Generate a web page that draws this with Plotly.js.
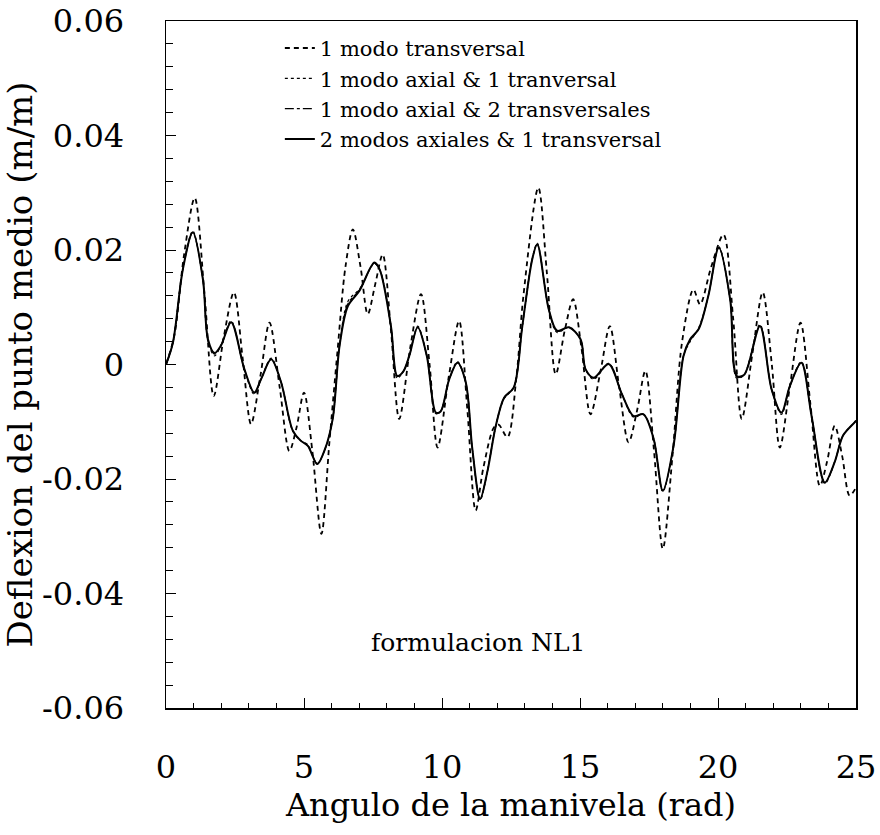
<!DOCTYPE html>
<html>
<head>
<meta charset="utf-8">
<script src="https://cdn.plot.ly/plotly-3.0.1.min.js"></script>
<style>
html,body{margin:0;padding:0;background:#fff;}
#chart{width:880px;height:835px;}
</style>
</head>
<body>
<div id="chart"></div>
<script>
// Series names
const seriesNames = [
  "1 modo transversal",
  "1 modo axial & 1 tranversal",
  "1 modo axial & 2 transversales",
  "2 modos axiales & 1 transversal"
];

// 1 modo transversal (dashed)
const angleT = [0, 0.3, 0.65, 1.04, 1.40, 1.73, 2.10, 2.46, 2.78, 3.08, 3.42, 3.75, 4.12, 4.47, 4.73, 5.00, 5.30, 5.63, 5.92, 6.22, 6.50, 6.77, 7.05, 7.31, 7.58, 7.85, 8.15, 8.45, 8.85, 9.24, 9.55, 9.84, 10.25, 10.62, 10.92, 11.22, 11.50, 11.88, 12.05, 12.37, 12.70, 12.95, 13.49, 13.80, 14.12, 14.45, 14.75, 15.05, 15.38, 15.75, 16.08, 16.42, 16.76, 17.07, 17.37, 17.68, 18.00, 18.35, 18.70, 19.11, 19.35, 19.75, 20.20, 20.55, 20.86, 21.25, 21.62, 21.95, 22.24, 22.60, 22.99, 23.35, 23.69, 23.95, 24.23, 24.50, 24.77, 25.00];
const defT = [0, 0.0050, 0.0190, 0.0291, 0.0120, -0.0055, 0.0050, 0.0126, 0.0010, -0.0104, -0.0020, 0.0073, -0.0040, -0.0151, -0.0110, -0.0049, -0.0150, -0.0296, -0.0136, 0.0027, 0.0170, 0.0236, 0.0170, 0.0088, 0.0140, 0.0192, 0.0060, -0.0095, 0.0030, 0.0123, 0.0000, -0.0145, -0.0020, 0.0076, -0.0080, -0.0255, -0.0180, -0.0110, -0.0105, -0.0127, -0.0020, 0.0120, 0.0309, 0.0160, -0.0017, 0.0060, 0.0114, 0.0030, -0.0087, -0.0010, 0.0067, -0.0040, -0.0136, -0.0080, -0.0011, -0.0150, -0.0322, -0.0160, 0.0040, 0.0131, 0.0105, 0.0170, 0.0227, 0.0080, -0.0095, 0.0020, 0.0126, 0.0000, -0.0145, -0.0040, 0.0073, -0.0070, -0.0212, -0.0170, -0.0107, -0.0160, -0.0229, -0.0215];

// Shared angle for the coupled formulations
const angle = [0, 0.25, 0.61, 0.97, 1.34, 1.52, 1.76, 1.99, 2.36, 2.84, 3.20, 3.45, 3.81, 4.17, 4.59, 4.88, 5.14, 5.48, 5.76, 6.04, 6.29, 6.59, 7.01, 7.55, 7.75, 8.15, 8.38, 8.60, 8.82, 9.12, 9.45, 9.78, 9.95, 10.26, 10.56, 10.86, 11.10, 11.38, 11.64, 11.95, 12.25, 12.60, 12.91, 13.27, 13.45, 13.87, 14.17, 14.60, 15.02, 15.20, 15.50, 16.04, 16.52, 16.94, 17.30, 17.67, 18.00, 18.39, 18.75, 18.99, 19.30, 19.65, 20.03, 20.44, 20.68, 20.95, 21.52, 21.94, 22.30, 22.60, 23.02, 23.39, 23.87, 24.23, 24.53, 24.95, 25.00];

// 1 modo axial & 1 tranversal (dotted)
const defA1T1 = [0, 0.0038, 0.0168, 0.0233, 0.0146, 0.0040, 0.0015, 0.0033, 0.0076, -0.0010, -0.0052, -0.0025, 0.0011, -0.0031, -0.0116, -0.0133, -0.0140, -0.0174, -0.0148, -0.0095, 0.0035, 0.0110, 0.0132, 0.0176, 0.0165, 0.0067, -0.0024, -0.0012, 0.0016, 0.0067, 0.0015, -0.0086, -0.0082, -0.0026, 0.0005, -0.0031, -0.0148, -0.0237, -0.0188, -0.0107, -0.0060, -0.0040, 0.0067, 0.0184, 0.0212, 0.0096, 0.0056, 0.0065, 0.0044, -0.0008, -0.0026, 0.0002, -0.0052, -0.0092, -0.0087, -0.0130, -0.0222, -0.0142, 0.0015, 0.0040, 0.0064, 0.0120, 0.0206, 0.0114, -0.0024, -0.0018, 0.0070, -0.0043, -0.0087, -0.0038, 0.0005, -0.0090, -0.0208, -0.0170, -0.0124, -0.0101, -0.0098];

// 1 modo axial & 2 transversales (dash-dot)
const defA1T2 = [0, 0.0038, 0.0166, 0.0230, 0.0148, 0.0043, 0.0018, 0.0033, 0.0074, -0.0008, -0.0050, -0.0025, 0.0009, -0.0031, -0.0115, -0.0133, -0.0142, -0.0173, -0.0148, -0.0095, 0.0033, 0.0106, 0.0130, 0.0177, 0.0165, 0.0067, -0.0021, -0.0012, 0.0016, 0.0065, 0.0015, -0.0085, -0.0082, -0.0026, 0.0003, -0.0031, -0.0148, -0.0235, -0.0188, -0.0107, -0.0058, -0.0040, 0.0067, 0.0184, 0.0210, 0.0096, 0.0058, 0.0065, 0.0044, -0.0008, -0.0024, 0.0001, -0.0052, -0.0090, -0.0087, -0.0130, -0.0221, -0.0142, 0.0015, 0.0042, 0.0062, 0.0120, 0.0204, 0.0114, -0.0022, -0.0018, 0.0068, -0.0043, -0.0085, -0.0038, 0.0003, -0.0090, -0.0207, -0.0170, -0.0124, -0.0101, -0.0098];

// 2 modos axiales & 1 transversal (solid)
const defA2T1 = [0, 0.0038, 0.0166, 0.0231, 0.0148, 0.0044, 0.0020, 0.0033, 0.0074, -0.0008, -0.0049, -0.0025, 0.0009, -0.0031, -0.0115, -0.0133, -0.0142, -0.0174, -0.0148, -0.0095, 0.0033, 0.0102, 0.0129, 0.0178, 0.0165, 0.0067, -0.0020, -0.0012, 0.0016, 0.0065, 0.0015, -0.0084, -0.0082, -0.0026, 0.0003, -0.0031, -0.0148, -0.0235, -0.0188, -0.0107, -0.0058, -0.0040, 0.0067, 0.0184, 0.0210, 0.0096, 0.0059, 0.0065, 0.0044, -0.0008, -0.0023, 0.0001, -0.0052, -0.0090, -0.0087, -0.0130, -0.0220, -0.0142, 0.0015, 0.0044, 0.0062, 0.0120, 0.0204, 0.0114, -0.0020, -0.0018, 0.0067, -0.0043, -0.0084, -0.0038, 0.0003, -0.0090, -0.0206, -0.0170, -0.0124, -0.0101, -0.0098];

const xTickVals = [0, 5, 10, 15, 20, 25];
const yTickVals = [-0.06, -0.04, -0.02, 0, 0.02, 0.04, 0.06];
const yTickText = ["-0.06", "-0.04", "-0.02", "0", "0.02", "0.04", "0.06"];

const font = "DejaVu Serif, Liberation Serif, serif";

const traces = [
  {x: angleT, y: defT, name: seriesNames[0], mode: "lines", line: {color: "#000", width: 1.8, dash: "5px,4px", shape: "spline", smoothing: 0.9}},
  {x: angle, y: defA1T1, name: seriesNames[1], mode: "lines", line: {color: "#000", width: 1.2, dash: "dot", shape: "spline", smoothing: 0.9}},
  {x: angle, y: defA1T2, name: seriesNames[2], mode: "lines", line: {color: "#000", width: 1.2, dash: "dashdot", shape: "spline", smoothing: 0.9}},
  {x: angle, y: defA2T1, name: seriesNames[3], mode: "lines", line: {color: "#000", width: 2, shape: "spline", smoothing: 0.9}}
];

const layout = {
  width: 880, height: 835,
  paper_bgcolor: "#fff", plot_bgcolor: "#fff",
  margin: {l: 166, r: 24, t: 21, b: 127},
  font: {family: font, color: "#000"},
  showlegend: true,
  legend: {
    x: 0.165, y: 0.99, xanchor: "left", yanchor: "top",
    bgcolor: "rgba(0,0,0,0)", borderwidth: 0,
    font: {family: font, size: 21, color: "#000"},
    itemwidth: 30, tracegroupgap: 0
  },
  xaxis: {
    range: [0, 25], tickvals: xTickVals, ticktext: xTickVals.map(String),
    showline: true, linecolor: "#000", linewidth: 1.5, mirror: true,
    ticks: "inside", ticklen: 10, tickcolor: "#000", tickwidth: 1,
    minor: {dtick: 1, ticks: "inside", ticklen: 5, tickcolor: "#000"},
    showgrid: false, zeroline: false,
    tickfont: {family: font, size: 32},
    ticklabelstandoff: 30,
    ticklabeloverflow: "allow",
    title: {text: "Angulo de la manivela (rad)", font: {family: font, size: 32}, standoff: 4}
  },
  yaxis: {
    range: [-0.06, 0.06], tickvals: yTickVals, ticktext: yTickText,
    showline: true, linecolor: "#000", linewidth: 1.5, mirror: true,
    ticks: "inside", ticklen: 10, tickcolor: "#000", tickwidth: 1,
    minor: {dtick: 0.004, ticks: "inside", ticklen: 7, tickcolor: "#000"},
    showgrid: false, zeroline: false,
    tickfont: {family: font, size: 32},
    ticklabelstandoff: 34,
    ticklabeloverflow: "allow",
    title: {text: "Deflexion del punto medio (m/m)", font: {family: font, size: 34}, standoff: 12}
  },
  annotations: [
    {x: 11.3, y: -0.0485, xref: "x", yref: "y", text: "formulacion NL1", showarrow: false,
     font: {family: font, size: 25, color: "#000"}}
  ]
};

Plotly.newPlot("chart", traces, layout, {staticPlot: true, displayModeBar: false});
</script>
</body>
</html>
